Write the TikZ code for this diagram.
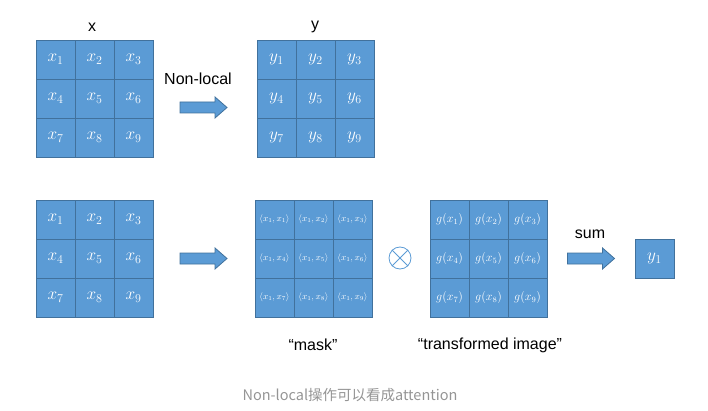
\documentclass[tikz,border=0pt]{standalone}
\usepackage{fontspec}
\setmainfont{Liberation Sans}
\newfontfamily\cjkfont{Noto Sans CJK SC}
\definecolor{cellblue}{HTML}{5B9BD5}
\definecolor{cellline}{HTML}{41719C}
\definecolor{capgray}{HTML}{959595}
\tikzset{
  cell/.style={draw=cellline, fill=cellblue, line width=0.8pt, minimum size=39pt, inner sep=0pt, text=white},
  bigtxt/.style={font=\fontsize{17}{17}\selectfont},
  masktxt/.style={font=\fontsize{8.8}{9}\selectfont},
  gtxt/.style={font=\fontsize{11.8}{12}\selectfont},
  lbl/.style={font=\fontsize{16}{16}\selectfont, inner sep=0pt},
  blockarrow/.style={draw=cellline, fill=cellblue, line width=0.8pt, line join=miter},
}
\newcommand\mkgrid[5]{% prefix, x0, y0, style, list
  \foreach \t [count=\i from 0] in {#5} {
    \pgfmathtruncatemacro\cc{mod(\i,3)}
    \pgfmathtruncatemacro\rr{int(\i/3)}
    \pgfmathtruncatemacro\nn{\i+1}
    \node[cell,#4] (#1\nn) at ({#2+19.5+39*\cc},{#3+19.5+39*\rr}) {$\t$};
  }
}
% block arrow centred on a named coordinate
\newcommand\blockarr[1]{%
  \draw[blockarrow] ([shift={(-23.5,-5.5)}]#1) -- ([shift={(11.5,-5.5)}]#1) -- ([shift={(11.5,-10.5)}]#1)
    -- ([shift={(23.5,0)}]#1) -- ([shift={(11.5,10.5)}]#1) -- ([shift={(11.5,5.5)}]#1)
    -- ([shift={(-23.5,5.5)}]#1) -- cycle;
}
\begin{document}
\begin{tikzpicture}[x=1pt,y=-1pt]
\useasboundingbox (0,0) rectangle (708,411);
% top row
\mkgrid{a}{36}{40}{bigtxt}{x_1,x_2,x_3,x_4,x_5,x_6,x_7,x_8,x_9}
\node[lbl] (xl) at (92,27) {x};
\node[lbl] (nl) at (198,79) {Non-local};
\coordinate (arr1) at (203.5,107.5);
\blockarr{arr1}
\mkgrid{b}{257}{40}{bigtxt}{y_1,y_2,y_3,y_4,y_5,y_6,y_7,y_8,y_9}
\node[lbl] (yl) at (315,27) {y};
% bottom row
\mkgrid{c}{36}{200}{bigtxt}{x_1,x_2,x_3,x_4,x_5,x_6,x_7,x_8,x_9}
\coordinate (arr2) at (203.5,258.5);
\blockarr{arr2}
\mkgrid{m}{255}{200}{masktxt}{{\langle x_1,x_1\rangle},{\langle x_1,x_2\rangle},{\langle x_1,x_3\rangle},{\langle x_1,x_4\rangle},{\langle x_1,x_5\rangle},{\langle x_1,x_6\rangle},{\langle x_1,x_7\rangle},{\langle x_1,x_8\rangle},{\langle x_1,x_9\rangle}}
\node[circle, draw=cellblue, line width=0.8pt, minimum size=22pt, inner sep=0pt] (ot) at (400,258) {};
\draw[cellblue, line width=0.8pt] (ot.north west) -- (ot.south east) (ot.north east) -- (ot.south west);
\mkgrid{g}{430}{200}{gtxt}{g(x_1),g(x_2),g(x_3),g(x_4),g(x_5),g(x_6),g(x_7),g(x_8),g(x_9)}
\node[lbl] (sum) at (590,234) {sum};
\coordinate (arr3) at (591,258.5);
\blockarr{arr3}
\node[cell, bigtxt] (y1) at (654.5,258.5) {$y_1$};
\node[lbl] (mask) at (313,345) {“mask”};
\node[lbl] (tim) at (490,345) {“transformed image”};
\node[inner sep=0pt, text=capgray, font=\cjkfont\fontsize{14.5}{15}\selectfont] (cap) at (350,395) {Non-local操作可以看成attention};
\end{tikzpicture}
\end{document}
